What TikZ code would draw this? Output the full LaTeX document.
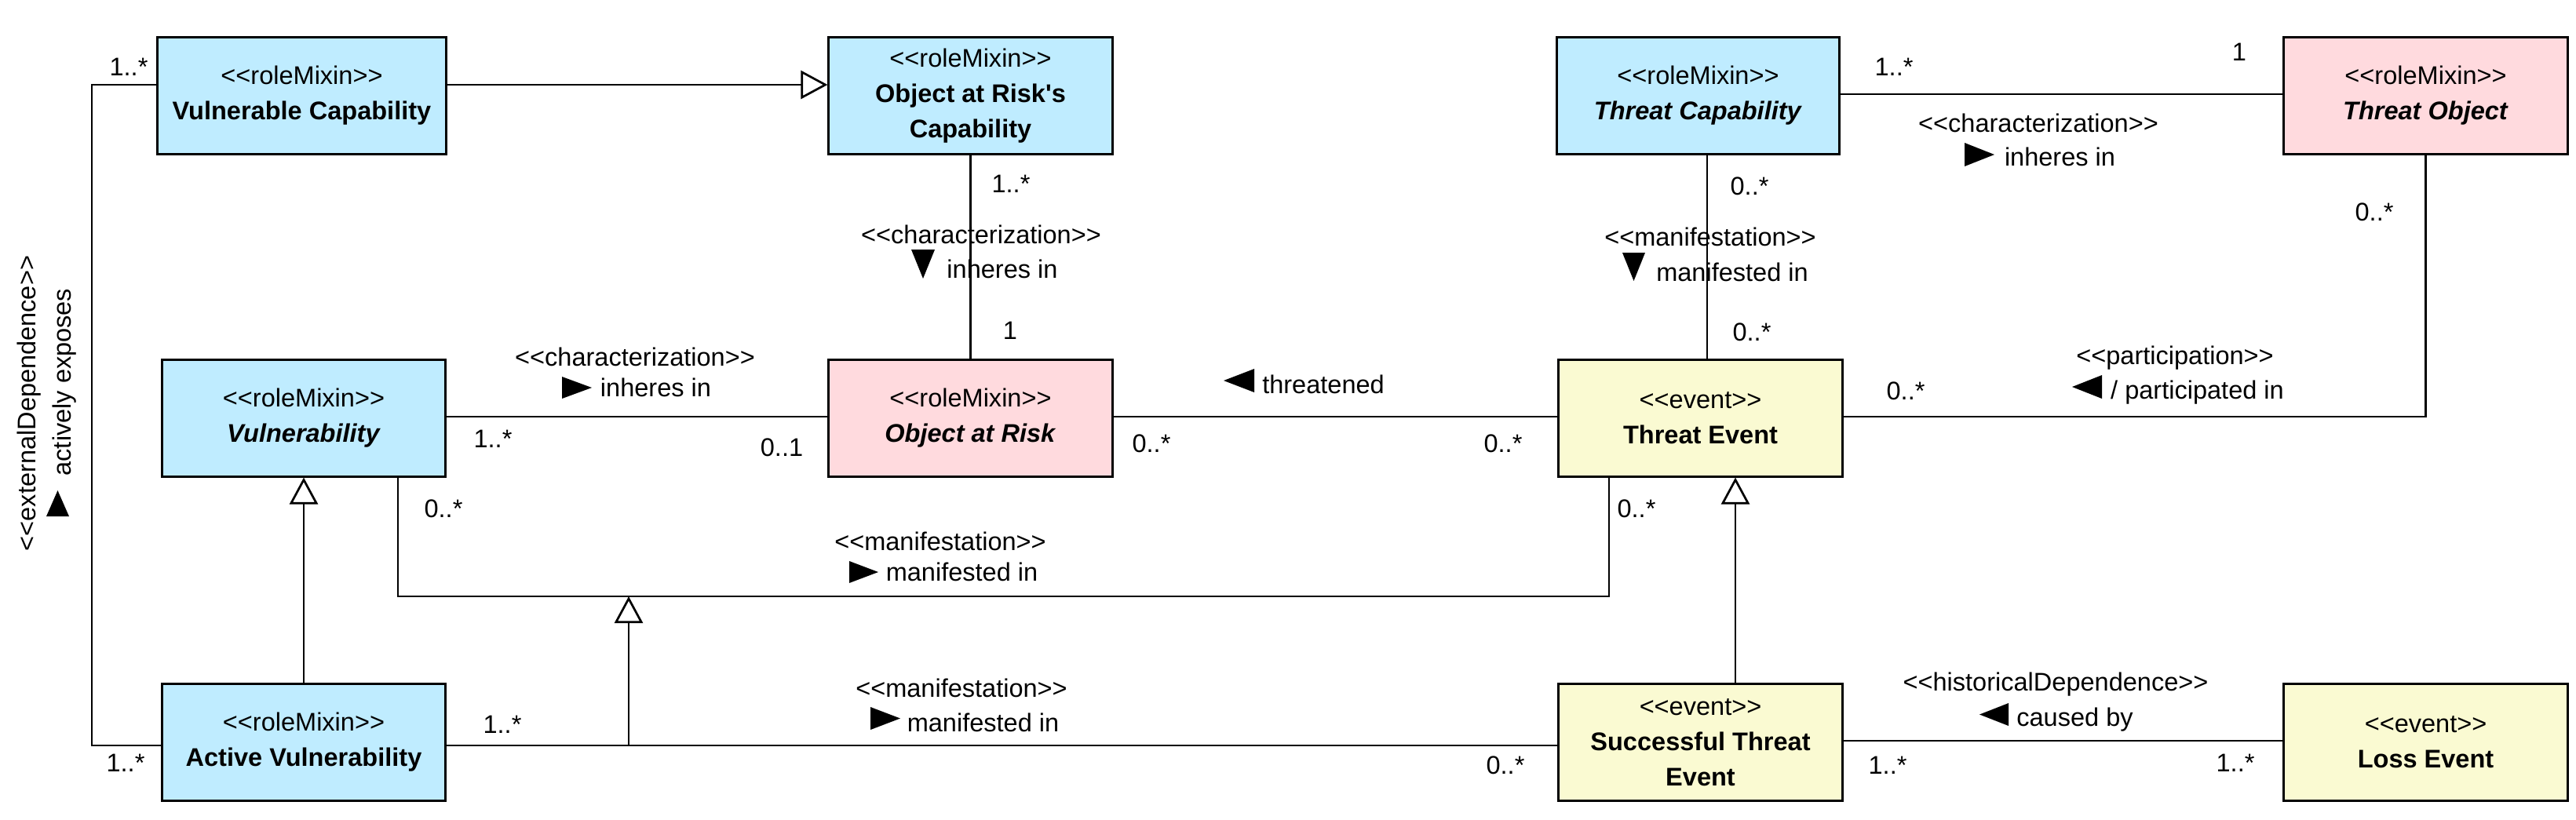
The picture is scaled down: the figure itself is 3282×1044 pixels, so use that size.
\documentclass[tikz,border=0pt]{standalone}
\usepackage{fontspec}
\newfontfamily\lsans{Liberation Sans}
\usetikzlibrary{arrows.meta}
\definecolor{rmblue}{RGB}{191,236,255}
\definecolor{rmpink}{RGB}{255,218,222}
\definecolor{evyellow}{RGB}{250,250,210}
\newcommand\dfont{\lsans\fontsize{9.25pt}{12.8pt}\selectfont}
\begin{document}
\begin{tikzpicture}[x=0.01cm,y=-0.01cm,
  every node/.style={font=\dfont},
  umlbox/.style={draw, line width=0.85pt, inner sep=0pt, align=center, minimum height=1.48cm},
  rolebox/.style={umlbox, fill=rmblue},
  objbox/.style={umlbox, fill=rmpink},
  eventbox/.style={umlbox, fill=evyellow},
  assoc/.style={line width=0.77pt},
  gen/.style={line width=0.77pt, -{Triangle[open, length=0.34cm, width=0.36cm]}},
  lbl/.style={inner sep=0pt}
]
\useasboundingbox (0,0) rectangle (3282,1044);

% boxes
\node[rolebox, minimum width=3.67cm] (VC) at (384.5,122) {<<roleMixin>>\\\textbf{Vulnerable Capability}};
\node[rolebox, minimum width=3.61cm] (ORC) at (1236.5,122) {<<roleMixin>>\\\textbf{Object at Risk's}\\\textbf{Capability}};
\node[rolebox, minimum width=3.59cm] (TC) at (2163.5,122) {<<roleMixin>>\\\textbf{\textit{Threat Capability}}};
\node[objbox, minimum width=3.61cm] (TO) at (3090.5,122) {<<roleMixin>>\\\textbf{\textit{Threat Object}}};
\node[rolebox, minimum width=3.60cm] (V) at (387,533) {<<roleMixin>>\\\textbf{\textit{Vulnerability}}};
\node[objbox, minimum width=3.61cm] (OR) at (1236.5,533) {<<roleMixin>>\\\textbf{\textit{Object at Risk}}};
\node[eventbox, minimum width=3.61cm] (TE) at (2166.5,533) {<<event>>\\\textbf{Threat Event}};
\node[rolebox, minimum width=3.60cm] (AV) at (387,946) {<<roleMixin>>\\\textbf{Active Vulnerability}};
\node[eventbox, minimum width=3.61cm] (STE) at (2166.5,946) {<<event>>\\\textbf{Successful Threat}\\\textbf{Event}};
\node[eventbox, minimum width=3.61cm] (LE) at (3090.5,946) {<<event>>\\\textbf{Loss Event}};

% helper coordinates
\coordinate (mA) at (507,760);
\coordinate (mB) at (2050,760);
\coordinate (gA) at (801,950);
\coordinate (eA) at (117,950);
\coordinate (eB) at (117,108);

% connectors
\draw[gen] (VC.east |- 0,108) -- (ORC.west |- 0,108);
\draw[assoc] (ORC.south) -- (OR.north);
\draw[assoc] (V.east |- 0,531) -- (OR.west |- 0,531);
\draw[assoc] (OR.east |- 0,531) -- (TE.west |- 0,531);
\draw[assoc] (TC.south -| 2175,0) -- (TE.north -| 2175,0);
\draw[assoc] (TC.east |- 0,120) -- (TO.west |- 0,120);
\draw[assoc] (TO.south) -- (TO.south |- 0,531) -- (TE.east |- 0,531);
\draw[assoc] (V.south -| mA) -- (mA) -- (mB) -- (TE.south -| mB);
\draw[gen] (AV.north) -- (V.south);
\draw[assoc] (AV.east |- gA) -- (STE.west |- gA);
\draw[gen] (gA) -- (gA |- mA);
\draw[gen] (STE.north -| 2211,0) -- (TE.south -| 2211,0);
\draw[assoc] (STE.east |- 0,944) -- (LE.west |- 0,944);
\draw[assoc] (AV.west |- eA) -- (eA) -- (eB) -- (VC.west |- eB);

% multiplicities
\node[lbl] (m1) at (1288,234) {1..*};
\node[lbl] (m2) at (1287,421) {1};
\node[lbl] (m3) at (628,559) {1..*};
\node[lbl] (m4) at (996,570) {0..1};
\node[lbl] (m5) at (1467,565) {0..*};
\node[lbl] (m6) at (1915,565) {0..*};
\node[lbl] (m7) at (2229,237) {0..*};
\node[lbl] (m8) at (2232,423) {0..*};
\node[lbl] (m9) at (2413,85) {1..*};
\node[lbl] (m10) at (2853,66) {1};
\node[lbl] (m11) at (3025,270) {0..*};
\node[lbl] (m12) at (2428,498) {0..*};
\node[lbl] (m13) at (565,648) {0..*};
\node[lbl] (m14) at (2085,648) {0..*};
\node[lbl] (m15) at (640,923) {1..*};
\node[lbl] (m16) at (1918,975) {0..*};
\node[lbl] (m17) at (2405,975) {1..*};
\node[lbl] (m18) at (2848,972) {1..*};
\node[lbl] (m19) at (164,85) {1..*};
\node[lbl] (m20) at (160,972) {1..*};

% stereotypes
\node[lbl] (s1) at (1250,299) {<<characterization>>};
\node[lbl] (s2) at (809,455) {<<characterization>>};
\node[lbl] (s3) at (2179,302) {<<manifestation>>};
\node[lbl] (s4) at (2597,157) {<<characterization>>};
\node[lbl] (s5) at (2771,456) {<<participation>>};
\node[lbl] (s6) at (1198,690) {<<manifestation>>};
\node[lbl] (s7) at (1225,877) {<<manifestation>>};
\node[lbl] (s8) at (2619,872) {<<historicalDependence>>};
\node[lbl, rotate=90, anchor=base] (s9) at (45,514) {<<externalDependence>>};

% names
\node[lbl] (n1) at (1277,343) {inheres in};
\node[lbl] (n2) at (835.5,494) {inheres in};
\node[lbl] (n3) at (1686,490) {threatened};
\node[lbl] (n4) at (2207,347) {manifested in};
\node[lbl] (n5) at (2624.5,200) {inheres in};
\node[lbl] (n6) at (2799.5,500) {/ participated in};
\node[lbl] (n7) at (1225.5,729) {manifested in};
\node[lbl] (n8) at (1252.5,921) {manifested in};
\node[lbl] (n9) at (2643.5,917) {caused by};
\node[lbl, rotate=90, anchor=base] (n10) at (90.7,487) {actively exposes};

% direction triangles
\fill (1161,318) -- (1191,318) -- (1176,355) -- cycle;
\fill (716,480) -- (716,508) -- (754,494) -- cycle;
\fill (1598,470) -- (1598,500) -- (1559,485) -- cycle;
\fill (2067,322) -- (2096,322) -- (2081.5,358) -- cycle;
\fill (2503,182) -- (2503,212) -- (2541,197) -- cycle;
\fill (2678,478) -- (2678,508) -- (2640,493) -- cycle;
\fill (1082,715) -- (1082,743) -- (1119,729) -- cycle;
\fill (1109,901) -- (1109,930) -- (1147,915.5) -- cycle;
\fill (2559,896) -- (2559,925) -- (2522,910.5) -- cycle;
\fill (59,658) -- (88,658) -- (73.5,625) -- cycle;
\end{tikzpicture}
\end{document}
